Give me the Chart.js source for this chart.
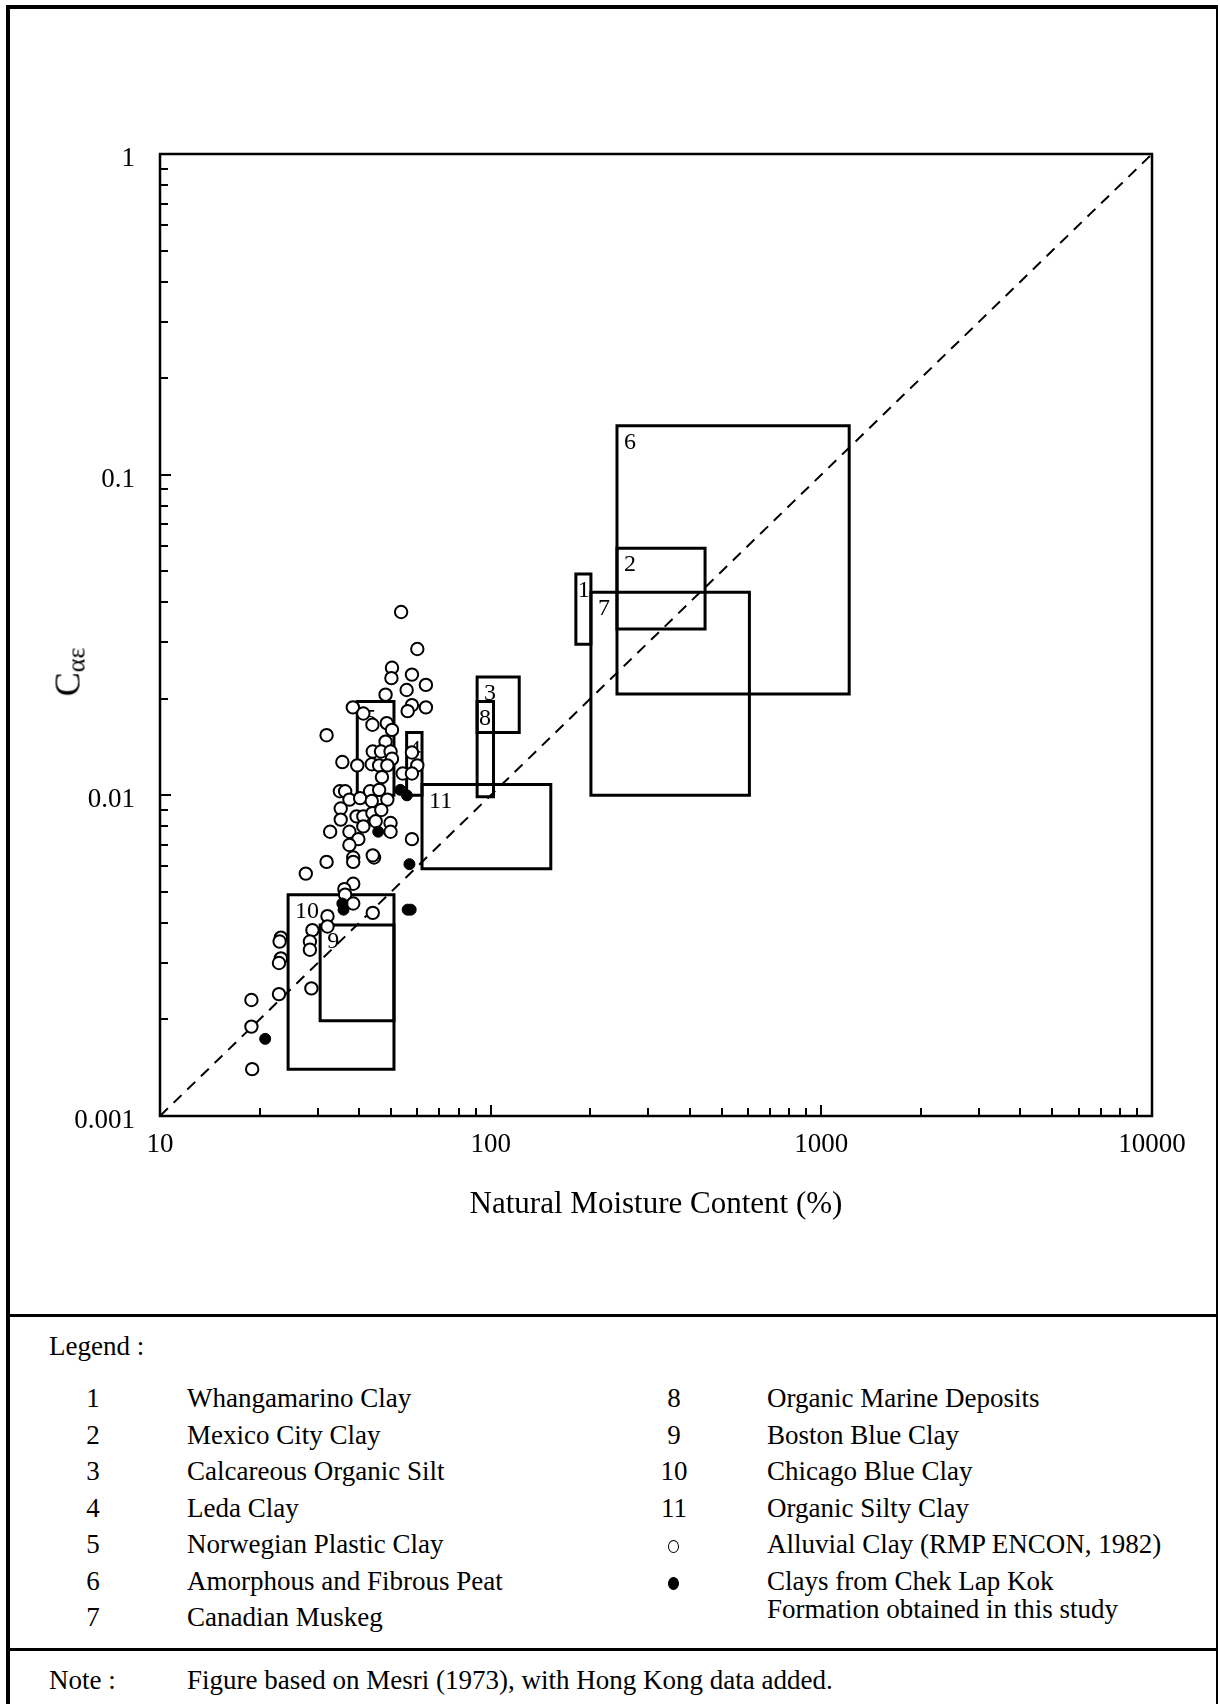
<!DOCTYPE html>
<html>
<head>
  <title>Secondary compression index vs natural moisture content</title>
  <script src="https://cdn.jsdelivr.net/npm/chart.js"></script>
  <style>
    body { margin: 0; background: #fff; color: #000; font-family: "Liberation Serif", "Times New Roman", serif; }
    #page { position: relative; width: 1220px; height: 1704px; overflow: hidden; }
    .rule { position: absolute; background: #000; }
    #chartBox { position: absolute; left: 0; top: 0; width: 1220px; height: 1310px; }
    .txt { position: absolute; font-size: 27px; line-height: 27px; white-space: nowrap; }
    .num { position: absolute; font-size: 27px; line-height: 27px; width: 50px; margin-left: -25px; text-align: center; }
    .dot { position: absolute; width: 9px; height: 11px; border-radius: 50%; border: 1.8px solid #000; background: #fff; margin-left: -6.3px; }
    .dot.solid { background: #000; }
    #yTitle { position: absolute; left: 72px; top: 672px; transform: translate(-50%, -50%) rotate(-90deg); font-size: 36px; line-height: 36px; white-space: nowrap; }
    #yTitle sub { font-size: 26px; vertical-align: -5px; }
    #xTitle { position: absolute; left: 656px; top: 1187px; transform: translateX(-50%); font-size: 31px; line-height: 31px; white-space: nowrap; }
  </style>
</head>
<body>
<div id="page">
  <div class="rule" style="left:6px; top:5px; width:4px; height:1699px;"></div>
  <div class="rule" style="left:6px; top:5px; width:1212px; height:4px;"></div>
  <div class="rule" style="left:1216px; top:5px; width:2px; height:1699px;"></div>
  <div class="rule" style="left:6px; top:1314px; width:1212px; height:3px;"></div>
  <div class="rule" style="left:6px; top:1648px; width:1212px; height:3px;"></div>

  <div id="chartBox"><canvas id="chart" width="1220" height="1310"></canvas></div>
  <div id="yTitle">C<sub>αε</sub></div>
  <div id="xTitle">Natural Moisture Content (%)</div>

  <div class="txt" style="left:49px; top:1333px;">Legend :</div>
  <div id="legend"></div>
  <div class="txt" style="left:49px; top:1667px;">Note :</div>
  <div class="txt" style="left:187px; top:1667px;">Figure based on Mesri (1973), with Hong Kong data added.</div>
</div>

<script>
  // soil groups (boxes) after Mesri (1973)
  const boxIds = ['1', '2', '3', '4', '5', '6', '7', '8', '9', '10', '11'];
  const boxNames = [
    'Whangamarino Clay', 'Mexico City Clay', 'Calcareous Organic Silt', 'Leda Clay',
    'Norwegian Plastic Clay', 'Amorphous and Fibrous Peat', 'Canadian Muskeg',
    'Organic Marine Deposits', 'Boston Blue Clay', 'Chicago Blue Clay', 'Organic Silty Clay'
  ];
  const boxMoistureMin = [181, 241, 91, 55.7, 39.5, 241, 201, 91, 30.5, 24.4, 62];
  const boxMoistureMax = [201, 445, 122, 62, 51, 1214, 606, 102, 51, 51, 152];
  const boxCaeMin = [0.0296, 0.033, 0.0157, 0.01, 0.01, 0.0207, 0.01, 0.0099, 0.00198, 0.0014, 0.0059];
  const boxCaeMax = [0.049, 0.059, 0.0234, 0.0157, 0.0196, 0.142, 0.043, 0.0196, 0.00394, 0.0049, 0.0108];

  // Alluvial Clay (RMP ENCON, 1982)
  const alluvialMoisture = [
    53.6, 60.0, 50.3, 50.1, 57.8, 63.7, 55.7, 48.1, 38.3, 41.2,
    57.8, 56.1, 63.7, 43.9, 48.5, 50.3, 31.9, 48.1, 57.8, 44.0,
    46.6, 49.8, 50.3, 35.6, 39.5, 43.7, 46.0, 48.7, 60.0, 54.2,
    57.8, 46.9, 35.0, 36.3, 37.4, 40.3, 43.2, 46.0, 48.7, 43.7,
    35.2, 39.3, 41.2, 43.9, 46.7, 35.2, 41.2, 44.9, 49.8, 49.8,
    32.7, 37.4, 39.8, 37.4, 57.8, 31.9, 38.4, 38.4, 44.4, 44.0,
    27.6, 38.4, 36.1, 36.3, 38.4, 44.0, 32.1, 32.1, 28.9, 28.4,
    28.4, 23.2, 23.0, 23.2, 22.9, 28.7, 22.9, 18.9, 18.9, 19.0
  ];
  const alluvialCae = [
    0.0373, 0.0286, 0.0250, 0.0232, 0.0238, 0.0221, 0.0213, 0.0206, 0.0188, 0.0180,
    0.0191, 0.0183, 0.0188, 0.0166, 0.0168, 0.0160, 0.0154, 0.0147, 0.0136, 0.0137,
    0.0137, 0.0137, 0.0130, 0.0127, 0.0124, 0.0125, 0.0124, 0.0124, 0.0124, 0.0117,
    0.0117, 0.0114, 0.0103, 0.0103, 0.0097, 0.0098, 0.0103, 0.0104, 0.0097, 0.0096,
    0.0091, 0.0086, 0.0086, 0.0088, 0.0090, 0.0084, 0.0080, 0.0083, 0.0082, 0.0077,
    0.0077, 0.0077, 0.0073, 0.0070, 0.0073, 0.0062, 0.0064, 0.0062, 0.0064, 0.0065,
    0.0057, 0.0053, 0.0051, 0.0049, 0.0046, 0.0043, 0.0042, 0.0039, 0.0038, 0.0035,
    0.0033, 0.0036, 0.0035, 0.0031, 0.0030, 0.0025, 0.0024, 0.0023, 0.0019, 0.0014
  ];

  // Chek Lap Kok Formation clays (this study)
  const chekLapKokMoisture = [20.8, 35.6, 35.9, 45.7, 53.3, 55.8, 56.8, 56.1, 57.3];
  const chekLapKokCae = [0.00174, 0.0046, 0.0044, 0.0077, 0.0104, 0.0100, 0.0061, 0.0044, 0.0044];

  // reference line C = w / 10000
  const trendMoisture = [10, 10000];
  const trendCae = [0.001, 1];

  const xTickLabels = ['10', '100', '1000', '10000'];
  const yTickLabels = ['0.001', '0.01', '0.1', '1'];
  const xTickValues = xTickLabels.map(Number);
  const yTickValues = yTickLabels.map(Number);

  const serif = "'Liberation Serif', 'Times New Roman', serif";

  // ---- legend below the chart ----
  const legend = document.getElementById('legend');
  function addRow(col, row, label, name, symbol) {
    const top = 1385.4 + row * 36.5;
    const numX = col === 0 ? 93 : 674;
    const txtX = col === 0 ? 187 : 767;
    if (symbol) {
      const d = document.createElement('div');
      d.className = 'dot' + (symbol === 'solid' ? ' solid' : '');
      d.style.left = numX + 'px';
      d.style.top = (top + 9) + 'px';
      legend.appendChild(d);
    } else {
      const n = document.createElement('div');
      n.className = 'num';
      n.style.left = numX + 'px';
      n.style.top = top + 'px';
      n.textContent = label;
      legend.appendChild(n);
    }
    const t = document.createElement('div');
    t.className = 'txt';
    t.style.left = txtX + 'px';
    t.style.top = top + 'px';
    t.innerHTML = name;
    legend.appendChild(t);
    return t;
  }
  boxIds.forEach((id, i) => {
    if (i < 7) addRow(0, i, id, boxNames[i]);
    else addRow(1, i - 7, id, boxNames[i]);
  });
  addRow(1, 4, '', 'Alluvial Clay (RMP ENCON, 1982)', 'open');
  const clk = addRow(1, 5, '', 'Clays from Chek Lap Kok<br>Formation obtained in this study', 'solid');
  clk.style.lineHeight = '28px';
  clk.style.top = (1385.4 + 5 * 36.5 - 0.5) + 'px';

  // ---- chart ----
  const toPoints = (xs, ys) => xs.map((v, i) => ({ x: v, y: ys[i] }));

  const boxDatasets = boxIds.map((id, i) => ({
    label: 'Box ' + id,
    data: [
      { x: boxMoistureMin[i], y: boxCaeMin[i] },
      { x: boxMoistureMin[i], y: boxCaeMax[i] },
      { x: boxMoistureMax[i], y: boxCaeMax[i] },
      { x: boxMoistureMax[i], y: boxCaeMin[i] },
      { x: boxMoistureMin[i], y: boxCaeMin[i] }
    ],
    showLine: true,
    borderColor: '#000',
    borderWidth: 3,
    borderJoinStyle: 'miter',
    borderCapStyle: 'square',
    pointRadius: 0,
    fill: false,
    tension: 0
  }));

  // inward ticks and the full frame round the plot area
  const frameAndTicks = {
    id: 'frameAndTicks',
    afterDatasetsDraw(chart) {
      const { ctx, chartArea: a, scales: { x, y } } = chart;
      ctx.save();
      ctx.strokeStyle = '#000';
      ctx.lineWidth = 2;
      ctx.beginPath();
      for (let d = 0; d < xTickValues.length - 1; d++) {
        for (let m = 1; m < 10; m++) {
          const px = Math.round(x.getPixelForValue(xTickValues[d] * m));
          ctx.moveTo(px, a.bottom);
          ctx.lineTo(px, a.bottom - (m === 1 ? 11 : 8));
        }
      }
      for (let d = 0; d < yTickValues.length - 1; d++) {
        for (let m = 1; m < 10; m++) {
          const py = Math.round(y.getPixelForValue(yTickValues[d] * m));
          ctx.moveTo(a.left, py);
          ctx.lineTo(a.left + (m === 1 ? 11 : 8), py);
        }
      }
      ctx.stroke();
      ctx.lineWidth = 2.5;
      ctx.strokeRect(a.left, a.top, a.right - a.left, a.bottom - a.top);
      ctx.restore();
    }
  };

  // box numbers, written under the data points
  const boxLabels = {
    id: 'boxLabels',
    beforeDatasetDraw(chart, args) {
      if (args.index !== 1) return;
      const { ctx, scales: { x, y } } = chart;
      ctx.save();
      ctx.font = '24px ' + serif;
      ctx.fillStyle = '#000';
      ctx.textBaseline = 'alphabetic';
      boxIds.forEach((id, i) => {
        const left = x.getPixelForValue(boxMoistureMin[i]);
        const right = x.getPixelForValue(boxMoistureMax[i]);
        const top = y.getPixelForValue(boxCaeMax[i]);
        const inset = right - left < 25 ? 2 : 7;
        ctx.fillText(id, left + inset, top + 23);
      });
      ctx.restore();
    }
  };

  new Chart(document.getElementById('chart'), {
    type: 'scatter',
    data: {
      datasets: [
        {
          label: 'Clays from Chek Lap Kok Formation',
          data: toPoints(chekLapKokMoisture, chekLapKokCae),
          pointRadius: 5.5,
          pointBackgroundColor: '#000',
          pointBorderColor: '#000',
          pointBorderWidth: 1
        },
        {
          label: 'Alluvial Clay (RMP ENCON, 1982)',
          data: toPoints(alluvialMoisture, alluvialCae),
          pointRadius: 6.2,
          pointBackgroundColor: '#fff',
          pointBorderColor: '#000',
          pointBorderWidth: 2
        },
        ...boxDatasets,
        {
          label: 'C = w / 10000',
          data: toPoints(trendMoisture, trendCae),
          showLine: true,
          borderColor: '#000',
          borderWidth: 2,
          borderDash: [11, 8],
          pointRadius: 0,
          fill: false
        }
      ]
    },
    options: {
      responsive: false,
      devicePixelRatio: 1,
      animation: false,
      layout: { padding: { left: 0, top: 154, right: 68, bottom: 0 } },
      plugins: { legend: { display: false }, tooltip: { enabled: false } },
      scales: {
        x: {
          type: 'logarithmic',
          position: 'bottom',
          min: 10,
          max: 10000,
          grid: { display: false, drawTicks: false },
          border: { display: false },
          afterBuildTicks: s => { s.ticks = xTickValues.map(v => ({ value: v })); },
          afterFit: s => { s.height = 194; },
          ticks: {
            autoSkip: false,
            maxRotation: 0,
            padding: 13,
            color: '#000',
            font: { family: serif, size: 27 },
            callback: v => xTickLabels[xTickValues.indexOf(v)] ?? ''
          }
        },
        y: {
          type: 'logarithmic',
          position: 'left',
          min: 0.001,
          max: 1,
          grid: { display: false, drawTicks: false },
          border: { display: false },
          afterBuildTicks: s => { s.ticks = yTickValues.map(v => ({ value: v })); },
          afterFit: s => { s.width = 160; },
          ticks: {
            autoSkip: false,
            padding: 25,
            labelOffset: 5,
            color: '#000',
            font: { family: serif, size: 27 },
            callback: v => yTickLabels[yTickValues.indexOf(v)] ?? ''
          }
        }
      }
    },
    plugins: [frameAndTicks, boxLabels]
  });
</script>
</body>
</html>
